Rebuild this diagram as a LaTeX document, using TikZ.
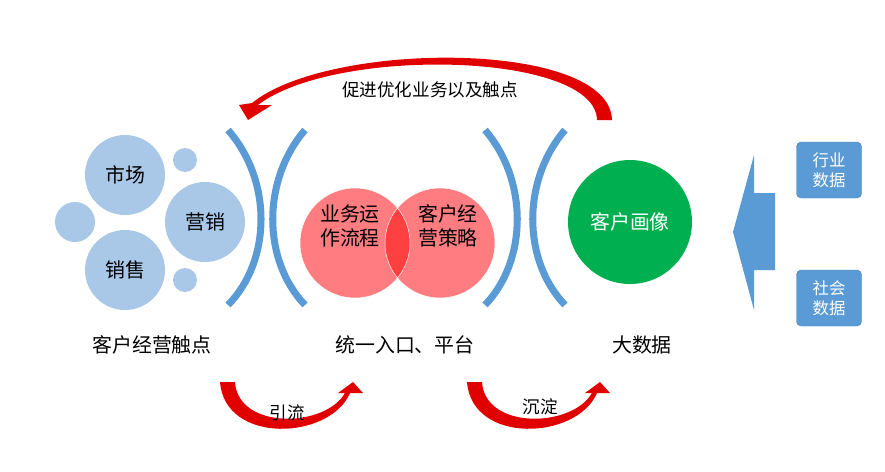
\documentclass[tikz,border=0pt]{standalone}
\usepackage{fontspec}
\setmainfont{Noto Sans CJK SC}
\definecolor{bubble}{HTML}{A9C8E8}
\definecolor{bracket}{HTML}{5B9BD5}
\definecolor{pinkc}{HTML}{FF7C80}
\definecolor{overlapc}{HTML}{FF4040}
\definecolor{greenc}{HTML}{00B050}
\definecolor{boxc}{HTML}{5B9BD5}
\definecolor{redarrow}{HTML}{E00000}
\tikzset{
  bubble/.style={circle, fill=bubble, inner sep=0pt},
  bracket/.style={draw=bracket, line width=6pt},
  label/.style={font=\fontsize{17}{20}\selectfont},
  databox/.style={draw=bracket!80!black, fill=boxc, rounded corners=4pt, text=white,
    minimum width=65*0.03cm, minimum height=56*0.03cm, align=center,
    font=\fontsize{14}{17}\selectfont},
}
\newcommand{\bendarrow}[1]{%
  \fill[redarrow, shift={(#1,0)}] (220,382) .. controls (225,445) and (330,440) .. (350,393)
    -- (363,393) -- (353,382) -- (338,393) -- (345,393)
    .. controls (325,428) and (238,430) .. (235,382) -- cycle;}
\begin{document}
\begin{tikzpicture}[x=0.03cm, y=-0.03cm]
    \useasboundingbox (0,0) rectangle (885,472);

    % touch points
    \node[bubble, minimum size=80*0.03cm, label] (market) at (125,175) {市场};
    \node[bubble, minimum size=80*0.03cm, label] (promo) at (205,222) {营销};
    \node[bubble, minimum size=80*0.03cm, label] (sales) at (125,270) {销售};
    \node[bubble, minimum size=40*0.03cm] (dotA) at (75,222) {};
    \node[bubble, minimum size=24*0.03cm] (dotB) at (185,160) {};
    \node[bubble, minimum size=24*0.03cm] (dotC) at (185,280) {};

    % brackets
    \draw[bracket] (228,130) .. controls (272,180) and (272,260) .. (228,305);
    \draw[bracket] (305,130) .. controls (262,180) and (262,260) .. (305,305);
    \draw[bracket] (485,130) .. controls (528,180) and (528,260) .. (485,305);
    \draw[bracket] (565,130) .. controls (522,180) and (522,260) .. (565,305);

    % platform circles
    \fill[pinkc] (355,243) circle (55);
    \fill[pinkc] (440,243) circle (55);
    \begin{scope}
      \clip (355,243) circle (55);
      \fill[overlapc] (440,243) circle (55);
    \end{scope}
    \draw[white, thin] (355,243) circle (55) (440,243) circle (55);
    \node[label, align=center] (ops) at (350,226) {业务运\\作流程};
    \node[label, align=center] (strategy) at (448,226) {客户经\\营策略};

    % big data
    \node[circle, fill=greenc, minimum size=124*0.03cm, text=white, label] (portrait) at (630,222) {客户画像};
    \fill[fill=bracket] (733,232) -- (754,155) -- (754,193) -- (775,193)
      -- (775,270) -- (754,270) -- (754,310) -- cycle;
    \node[databox] (industry) at (829,170) {行业\\数据};
    \node[databox] (social) at (829,298) {社会\\数据};

    % captions
    \node[label] (touch) at (152,345) {客户经营触点};
    \node[label] (entry) at (405,345) {统一入口、平台};
    \node[label] (bigdata) at (642,345) {大数据};

    % red arrows
    \fill[redarrow] (612,120) .. controls (610,40) and (330,40) .. (252,103)
      -- (239,105) -- (248,120) -- (272,105) -- (258,105)
      .. controls (335,46) and (596,52) .. (597,120) -- cycle;
    \node[font=\fontsize{15}{17}\selectfont] (improve) at (430,90) {促进优化业务以及触点};
    \bendarrow{0}
    \bendarrow{247}
    \node[font=\fontsize{15}{17}\selectfont] (flow) at (287,413) {引流};
    \node[font=\fontsize{15}{17}\selectfont] (settle) at (540,407) {沉淀};
\end{tikzpicture}
\end{document}
